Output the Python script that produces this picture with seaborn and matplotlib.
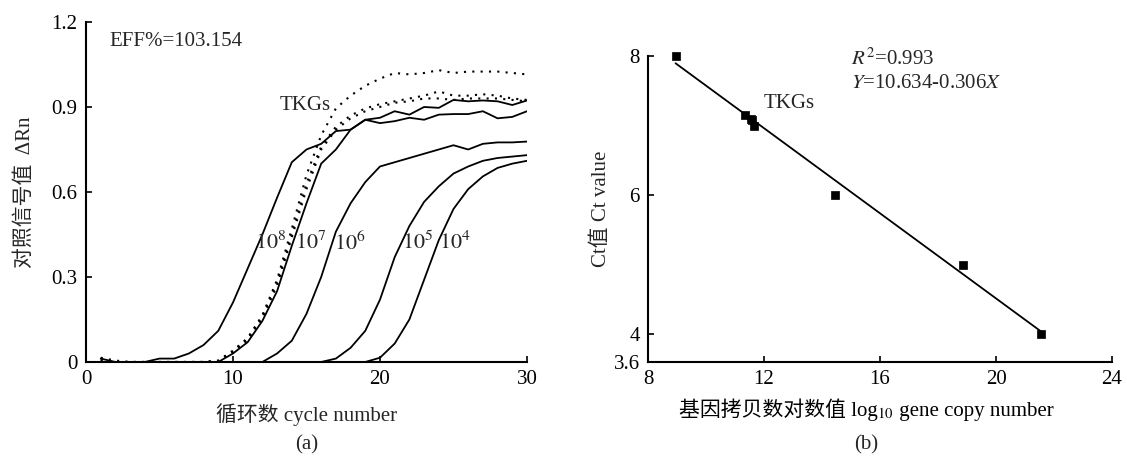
import numpy as np
import seaborn as sns
import matplotlib.pyplot as plt
from matplotlib.offsetbox import TextArea, HPacker, AnchoredOffsetbox

# amplification curves (panel a), delta Rn per cycle 1..30
cycles = list(range(1, 31))
curve_1e8 = [0.012, 0.0, 0.0, 0.0, 0.012, 0.012, 0.03, 0.06, 0.11, 0.21,
             0.33, 0.45, 0.58, 0.705, 0.75, 0.77, 0.815, 0.82, 0.855, 0.862,
             0.885, 0.873, 0.90, 0.897, 0.925, 0.92, 0.923, 0.92, 0.907, 0.923]
curve_1e7 = [0.0, 0.0, 0.0, 0.0, 0.0, 0.0, 0.0, 0.0, 0.0, 0.03,
             0.07, 0.145, 0.25, 0.41, 0.56, 0.70, 0.75, 0.82, 0.855, 0.843,
             0.85, 0.862, 0.855, 0.873, 0.875, 0.875, 0.885, 0.86, 0.865, 0.885]
curve_1e6 = [0.0] * 12 + [0.03, 0.075, 0.17, 0.30, 0.46, 0.56, 0.635, 0.69,
                          0.705, 0.72, 0.735, 0.75, 0.765, 0.75, 0.77, 0.775, 0.775, 0.778]
curve_1e5 = [0.0] * 16 + [0.012, 0.05, 0.11, 0.22, 0.37, 0.48, 0.565, 0.62,
                          0.665, 0.69, 0.71, 0.72, 0.725, 0.73]
curve_1e4 = [0.0] * 19 + [0.015, 0.065, 0.15, 0.29, 0.43, 0.54, 0.61, 0.655,
                          0.685, 0.70, 0.71]
tkgs_1 = [0.015, 0.005, 0.0, 0.0, 0.0, 0.0, 0.0, 0.0, 0.005, 0.04,
          0.085, 0.165, 0.29, 0.47, 0.66, 0.80, 0.895, 0.94, 0.975, 1.0,
          1.02, 1.015, 1.02, 1.03, 1.02, 1.025, 1.025, 1.025, 1.02, 1.015]
tkgs_2 = [0.008, 0.0, 0.0, 0.0, 0.0, 0.0, 0.0, 0.0, 0.004, 0.038,
          0.08, 0.16, 0.28, 0.45, 0.63, 0.76, 0.83, 0.87, 0.895, 0.91,
          0.92, 0.93, 0.94, 0.955, 0.94, 0.94, 0.945, 0.94, 0.93, 0.925]
tkgs_3 = [0.005, 0.0, 0.0, 0.0, 0.0, 0.0, 0.0, 0.0, 0.003, 0.035,
          0.078, 0.155, 0.27, 0.44, 0.61, 0.75, 0.82, 0.86, 0.885, 0.90,
          0.915, 0.92, 0.93, 0.93, 0.925, 0.93, 0.93, 0.93, 0.925, 0.92]
std_labels = ['$10^8$', '$10^7$', '$10^6$', '$10^5$', '$10^4$']
std_label_x = [11.5, 14.2, 16.9, 21.5, 24.0]

# standard curve (panel b)
log_copy = [8.95, 11.35, 11.55, 11.6, 11.65, 14.45, 18.85, 21.55]
ct_value = [8.0, 7.15, 7.1, 7.08, 7.0, 6.0, 5.0, 4.0]
fit_a, fit_b = 10.634, -0.306

sns.set_style('ticks')
plt.rcParams['font.family'] = ['Liberation Serif', 'Noto Sans CJK SC']
plt.rcParams['mathtext.fontset'] = 'stix'
plt.rcParams['axes.unicode_minus'] = False
FS = 15

fig = plt.figure(figsize=(11.27, 4.61), dpi=100)
ax1 = fig.add_axes([0.0763, 0.2148, 0.3913, 0.7375])
ax2 = fig.add_axes([0.575, 0.2148, 0.4117, 0.6637])

for vals in [curve_1e8, curve_1e7, curve_1e6, curve_1e5, curve_1e4]:
    sns.lineplot(x=cycles, y=vals, ax=ax1, color='black', lw=1.3)
for vals in [tkgs_1, tkgs_2, tkgs_3]:
    sns.lineplot(x=cycles, y=vals, ax=ax1, color='black', lw=1.5,
                 linestyle=(0, (1, 3)))

ax1.set_xlim(0, 30)
ax1.set_ylim(0, 1.2)
ax1.set_xticks([0, 10, 20, 30])
ax1.set_yticks([0, 0.3, 0.6, 0.9, 1.2])
ax1.set_yticklabels(['0', '0.3', '0.6', '0.9', '1.2'])
ax1.set_xlabel('循环数 cycle number', fontsize=FS, labelpad=10)
ax1.set_ylabel('对照信号值  ΔRn', fontsize=FS, labelpad=12)
ax1.text(1.6, 1.13, 'EFF%=103.154', fontsize=FS, va='center')
ax1.text(13.2, 0.905, 'TKGs', fontsize=FS, va='center')
for lab, xp in zip(std_labels, std_label_x):
    ax1.text(xp, 0.42, lab, fontsize=16, va='center')
ax1.text(0.5, -0.245, '(a)', transform=ax1.transAxes, ha='center',
         va='center', fontsize=FS)

sns.scatterplot(x=log_copy, y=ct_value, ax=ax2, marker='s', color='black',
                s=40, edgecolor='black', clip_on=False, zorder=3)
fit_x = np.array([log_copy[0], log_copy[-1] + 0.05])
sns.lineplot(x=fit_x, y=fit_a + fit_b * fit_x, ax=ax2, color='black', lw=1.3)
ax2.set_xlim(8, 24)
ax2.set_ylim(3.6, 8)
ax2.set_xticks([8, 12, 16, 20, 24])
ax2.set_yticks([3.6, 4, 6, 8])
ax2.set_yticklabels(['3.6', '4', '6', '8'])
ax2.set_ylabel('Ct值 Ct value', fontsize=FS, labelpad=2)

# x label of panel b: CJK text plus a math subscript, packed side by side
tp = dict(fontsize=FS, color='black')
xlab = HPacker(children=[TextArea('基因拷贝数对数值 log', textprops=tp),
                         TextArea('$_{10}$', textprops=tp),
                         TextArea(' gene copy number', textprops=tp)],
               align='baseline', pad=0, sep=0)
ax2.add_artist(AnchoredOffsetbox(loc='upper center', child=xlab,
                                 bbox_to_anchor=(0.47, -0.12),
                                 bbox_transform=ax2.transAxes,
                                 frameon=False, pad=0, borderpad=0))
ax2.text(15.0, 7.95, '$R^2$=0.993', fontsize=FS, va='center')
ax2.text(15.0, 7.6, '$Y$=10.634-0.306$X$', fontsize=FS, va='center')
ax2.text(12.0, 7.32, 'TKGs', fontsize=FS, va='center')
ax2.text(0.47, -0.27, '(b)', transform=ax2.transAxes, ha='center',
         va='center', fontsize=FS)

for ax in (ax1, ax2):
    sns.despine(ax=ax)
    ax.tick_params(direction='in', length=4, width=1.2, labelsize=FS,
                   colors='black', pad=6)
    for sp in ('left', 'bottom'):
        ax.spines[sp].set_linewidth(1.5)
        ax.spines[sp].set_color('black')

fig.savefig('out.png', dpi=100)
